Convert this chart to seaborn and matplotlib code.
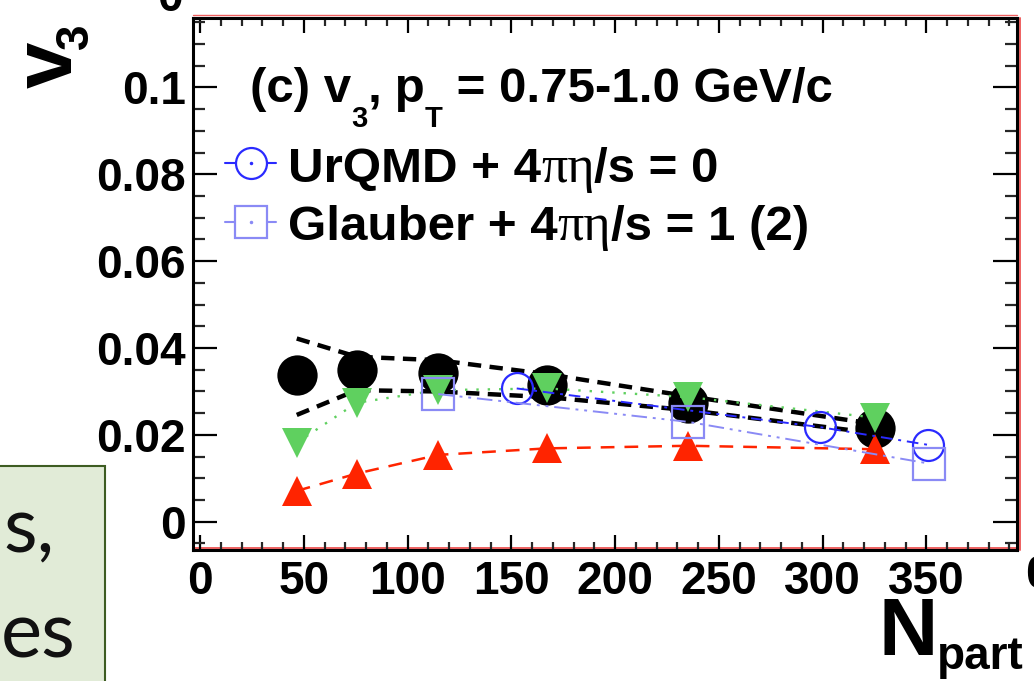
import numpy as np
import pandas as pd
import matplotlib
matplotlib.use("Agg")
import matplotlib.pyplot as plt
import seaborn as sns
from matplotlib.lines import Line2D
from matplotlib.patches import Rectangle
from matplotlib.transforms import IdentityTransform, ScaledTranslation
from matplotlib.ticker import MultipleLocator

# ---------------- data ----------------
npart = [46.6, 75.5, 114.8, 167.1, 235.3, 325.3]
v3_data = [0.0338, 0.0349, 0.0342, 0.0315, 0.0273, 0.0217]
v3_sys_hi = [0.0422, 0.0380, 0.0372, 0.0340, 0.0289, 0.0225]
v3_sys_lo = [0.0246, 0.0303, 0.0300, 0.0287, 0.0257, 0.0204]
v3_green = [0.0182, 0.0274, 0.0303, 0.0307, 0.0287, 0.0240]
v3_red = [0.0071, 0.0111, 0.0154, 0.0169, 0.0175, 0.0167]

urqmd_npart = [152.6, 298.8, 351.0]
urqmd_v3 = [0.0307, 0.0218, 0.0177]
glauber_npart = [114.8, 235.3, 351.4]
glauber_v3 = [0.0294, 0.0230, 0.0134]

xtick_vals = [0, 50, 100, 150, 200, 250, 300, 350]
xtick_labels = ["0", "50", "100", "150", "200", "250", "300", "350"]
ytick_vals = [0, 0.02, 0.04, 0.06, 0.08, 0.1]
ytick_labels = ["0", "0.02", "0.04", "0.06", "0.08", "0.1"]

legend_title = ["(c) v", "3", ",", " p", "T", " = 0.75-1.0 GeV/c"]
legend_labels = [["UrQMD + 4", "\u03c0\u03b7", "/s = 0"],
                 ["Glauber + 4", "\u03c0\u03b7", "/s = 1 (2)"]]

# ---------------- style ----------------
sns.set_theme(style="white")
plt.rcParams['font.family'] = ['Liberation Sans', 'DejaVu Sans']
plt.rcParams['font.weight'] = 'bold'

W, H = 1034, 681
fig = plt.figure(figsize=(W / 100, H / 100), dpi=100)
fig.patch.set_facecolor("white")
ax = fig.add_axes([193 / W, 1 - 550 / H, (1017 - 193) / W, (550 - 18) / H])
ax.set_facecolor("white")

BLACK = "black"
GREEN = "#5fd05f"
RED = "#ff2400"
BLUE = "#2a2aff"
LBLUE = "#8a8af5"

# black data points
sns.lineplot(x=npart, y=v3_data, ax=ax, color=BLACK, linestyle="none",
             marker="o", markersize=29, markerfacecolor=BLACK,
             markeredgecolor=BLACK, markeredgewidth=0, zorder=2)
# systematic band limits
for ys in (v3_sys_hi, v3_sys_lo):
    sns.lineplot(x=npart, y=ys, ax=ax, color=BLACK, linewidth=3.2,
                 linestyle=(0, (3.0, 1.9)), zorder=2.5)
# green down triangles, dotted
sns.lineplot(x=npart, y=v3_green, ax=ax, color=GREEN, linewidth=1.7,
             linestyle=(0, (1, 3.8)), marker="v", markersize=21.6,
             markerfacecolor=GREEN, markeredgecolor=GREEN, markeredgewidth=0,
             zorder=3)
# red up triangles, dashed
sns.lineplot(x=npart, y=v3_red, ax=ax, color=RED, linewidth=1.8,
             linestyle=(0, (5.5, 4.0)), marker="^", markersize=21.6,
             markerfacecolor=RED, markeredgecolor=RED, markeredgewidth=0,
             zorder=3.1)
# UrQMD circles
sns.lineplot(x=urqmd_npart, y=urqmd_v3, ax=ax, color=BLUE, linewidth=1.4,
             linestyle=(0, (6, 3, 1.5, 3)), marker="o", markersize=22.3,
             markerfacecolor="none", markeredgecolor=BLUE,
             markeredgewidth=1.6, zorder=4)
# Glauber squares
sns.lineplot(x=glauber_npart, y=glauber_v3, ax=ax, color=LBLUE, linewidth=1.4,
             linestyle=(0, (8, 3, 1.5, 3, 1.5, 3)), marker="s", markersize=23,
             markerfacecolor="none", markeredgecolor=LBLUE,
             markeredgewidth=1.6, zorder=4.1)

ax.set_xlim(-3.4, 393.7)
ax.set_ylim(-0.0065, 0.116)
ax.set_xticks(xtick_vals)
ax.set_xticklabels(xtick_labels)
ax.set_yticks(ytick_vals)
ax.set_yticklabels(ytick_labels)
ax.xaxis.set_minor_locator(MultipleLocator(10))
ax.yaxis.set_minor_locator(MultipleLocator(0.005))
ax.set_xlabel("")
ax.set_ylabel("")

for s in ax.spines.values():
    s.set_visible(True)
    s.set_color("black")
    s.set_linewidth(2.2)

ax.tick_params(axis="y", which="major", direction="in", length=17, width=1.6,
               left=True, right=True, labelsize=33, pad=5, colors="black")
ax.tick_params(axis="y", which="minor", direction="in", length=8.5, width=1.6,
               left=True, right=True)
ax.tick_params(axis="x", which="major", direction="in", length=10.5, width=1.6,
               bottom=True, top=True, labelsize=33, pad=7, colors="black")
ax.tick_params(axis="x", which="minor", direction="in", length=5.5, width=1.6,
               bottom=True, top=True)
for lab in ax.get_xticklabels() + ax.get_yticklabels():
    lab.set_fontweight("bold")

# reddish frame lines next to the axes
red_frame = "#ee6060"
ax.plot([0, 1], [0, 0], transform=ax.transAxes + ScaledTranslation(0, 2.5 / 100, fig.dpi_scale_trans),
        color=red_frame, lw=1.4, clip_on=False, zorder=0.5)
ax.plot([1, 1], [0, 1], transform=ax.transAxes + ScaledTranslation(2.5 / 100, 0, fig.dpi_scale_trans),
        color=red_frame, lw=1.4, clip_on=False, zorder=0.5)
ax.plot([0, 1], [1, 1], transform=ax.transAxes + ScaledTranslation(0, 3 / 100, fig.dpi_scale_trans),
        color=red_frame, lw=1.0, clip_on=False, zorder=0.5)

ID = IdentityTransform()
renderer = fig.canvas.get_renderer()


def put_runs(x, y, parts):
    for s, size, dy, kw in parts:
        t = fig.text(x, H - (y + dy), s, fontsize=size, ha="left",
                     va="baseline", transform=ID, **kw)
        x = t.get_window_extent(renderer).x1
    return x


B = dict(weight="bold", color="black", family=["Liberation Sans", "DejaVu Sans"])
G = dict(weight="normal", color="black", family=["Liberation Serif", "DejaVu Serif"])

# legend title line
put_runs(250, 101.7, [(legend_title[0], 35.5, 0, B), (legend_title[1], 21, 25, B),
                      (legend_title[2], 35.5, 0, B), (legend_title[3], 35.5, 0, B),
                      (legend_title[4], 21, 25, B), (legend_title[5], 35.5, 0, B)])
# legend entries
for (lab, base, col, mk, ms) in [(legend_labels[0], 181.7, BLUE, "o", 22.3),
                                 (legend_labels[1], 240.0, LBLUE, "s", 23)]:
    cy = H - (base - 18.5)
    fig.add_artist(Line2D([225, 276], [cy, cy], transform=ID, color=col, lw=1.5))
    fig.add_artist(Line2D([250.5], [cy], transform=ID, marker=mk, markersize=ms,
                          markerfacecolor="white", markeredgecolor=col,
                          markeredgewidth=1.6, linestyle="none"))
    fig.add_artist(Line2D([250.5], [cy], transform=ID, marker=".", markersize=3,
                          color=col, linestyle="none"))
    put_runs(288, base, [(lab[0], 35.5, 0, B), (lab[1], 37.5, 0, G), (lab[2], 35.5, 0, B)])

# axis titles
fig.text(72, H - 88, "v", rotation=90, rotation_mode="anchor", ha="left",
         va="baseline", fontsize=60, transform=ID, **B)
fig.text(88, H - 49, "3", rotation=90, rotation_mode="anchor", ha="left",
         va="baseline", fontsize=33, transform=ID, **B)
put_runs(878, 655, [("N", 59, 0, B), ("part", 33, 14, B)])

# partial labels of neighbouring panels (cut by the picture border)
fig.text(183, H + 1, "0", ha="right", va="center", fontsize=33, transform=ID, **B)
fig.text(1025, H - 576, "0", ha="left", va="center", fontsize=33, transform=ID, **B)

# slide overlay box at bottom-left
fig.add_artist(Rectangle((-10, -10), 115, H - 466 + 10, transform=ID,
                         facecolor="#e1ebd7", edgecolor="#3d5c22", lw=1.5, zorder=5))
fig.text(55, H - 552, "s,", ha="right", va="baseline", fontsize=56,
         transform=ID, family="Lato", weight="normal", color="#111111", zorder=6)
fig.text(76, H - 657, "es", ha="right", va="baseline", fontsize=56,
         transform=ID, family="Lato", weight="normal", color="#111111", zorder=6)

fig.savefig("out.png", dpi=100)
